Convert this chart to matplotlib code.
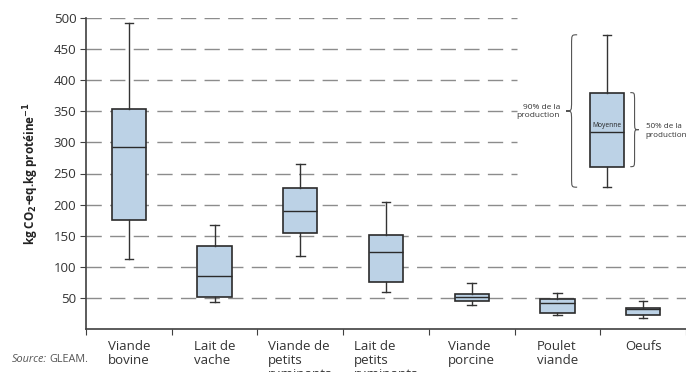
import matplotlib.pyplot as plt
from matplotlib.path import Path
from matplotlib.patches import PathPatch

plt.rcParams['font.family'] = ['Open Sans', 'DejaVu Sans']

# Produits et distribution des intensités d'émission (kg CO2-eq / kg protéine)
produits = ['Viande\nbovine', 'Lait de\nvache', 'Viande de\npetits\nruminants',
            'Lait de\npetits\nruminants', 'Viande\nporcine', 'Poulet\nviande', 'Oeufs']
p5 = [112, 44, 117, 59, 39, 22.5, 17]
p25 = [176, 51, 155, 75, 44.5, 25, 22.5]
mediane = [292, 85, 189, 124, 52, 41, 31.6]
p75 = [354, 133, 227, 150.6, 56, 49, 34]
p95 = [492, 168, 265, 204, 74, 58, 45.5]

# Boîte d'exemple pour la légende
leg_pos = 5.58
leg_stats = dict(whislo=228, q1=261, med=316, q3=380, whishi=473)

fig = plt.figure(figsize=(6.86, 3.72), dpi=100)
ax = fig.add_axes([86 / 686, 43 / 372, 600 / 686, 311 / 372])

gris = '#404040'
box_kw = dict(widths=0.40, patch_artist=True, showfliers=False,
              boxprops=dict(facecolor='#bcd2e6', edgecolor='#2b2b2b', linewidth=1.2),
              medianprops=dict(color='#2b2b2b', linewidth=1.0),
              whiskerprops=dict(color='#333333', linewidth=1.0),
              capprops=dict(color='#333333', linewidth=1.0))

stats = [dict(whislo=a, q1=b, med=c, q3=d, whishi=e)
         for a, b, c, d, e in zip(p5, p25, mediane, p75, p95)]
b1 = ax.bxp(stats, positions=range(len(produits)), **box_kw)
b2 = ax.bxp([leg_stats], positions=[leg_pos], **box_kw)
# petites barres aux extrémités des moustaches
for cap in b1['caps'] + b2['caps']:
    x0, x1 = cap.get_xdata()
    m = (x0 + x1) / 2
    cap.set_xdata([m - 0.05, m + 0.05])

# lignes de grille pointillées (courtes en haut à cause de la légende)
for v in range(50, 501, 50):
    xfin = 4.53 if v >= 250 else 6.5
    ax.plot([-0.5, xfin], [v, v], color='#8c8c8c', lw=1.0, dashes=(11, 6), zorder=0)

ax.set_xlim(-0.5, 6.5)
ax.set_ylim(0, 500)
ax.set_yticks(range(50, 501, 50))
ax.tick_params(axis='y', direction='out', length=4, color=gris, labelsize=9.5,
               labelcolor='#333333', pad=3)
ax.set_xticks([i - 0.5 for i in range(len(produits) + 1)])
ax.set_xticklabels([])
ax.tick_params(axis='x', which='major', direction='out', length=4, color=gris)
ax.set_xticks(range(len(produits)), minor=True)
ax.set_xticklabels(produits, minor=True, fontsize=9.5, color='#333333',
                   linespacing=1.1, va='top', ma='left')
ax.tick_params(axis='x', which='minor', length=0, pad=8)
for s in ['top', 'right']:
    ax.spines[s].set_visible(False)
for s in ['left', 'bottom']:
    ax.spines[s].set_color(gris)
    ax.spines[s].set_linewidth(1.2)

ax.set_ylabel(r'kg CO$_\mathbf{2}$-eq.kg protéine$^\mathbf{-1}$', fontsize=8.5,
              fontweight='bold', color='#222222', labelpad=9)


def accolade(x_pointe, x_ouvert, haut, bas, coin):
    # accolade verticale, pointe au milieu
    milieu = (haut + bas) / 2
    xm = (x_pointe + x_ouvert) / 2
    verts = [(x_ouvert, haut), (xm, haut), (xm, haut), (xm, haut - coin),
             (xm, milieu + coin),
             (xm, milieu), (xm, milieu), (x_pointe, milieu),
             (xm, milieu), (xm, milieu), (xm, milieu - coin),
             (xm, bas + coin),
             (xm, bas), (xm, bas), (x_ouvert, bas)]
    codes = [Path.MOVETO, Path.CURVE4, Path.CURVE4, Path.CURVE4, Path.LINETO,
             Path.CURVE4, Path.CURVE4, Path.CURVE4,
             Path.CURVE4, Path.CURVE4, Path.CURVE4, Path.LINETO,
             Path.CURVE4, Path.CURVE4, Path.CURVE4]
    ax.add_patch(PathPatch(Path(verts, codes), fill=False, edgecolor='#555555', lw=0.8))


accolade(5.10, 5.23, leg_stats['whishi'], leg_stats['whislo'], 16)
accolade(5.95, 5.85, leg_stats['q3'], leg_stats['q1'], 14)
ax.text(5.03, 350, '90% de la\nproduction', fontsize=6.0, color='#333333',
        ha='right', va='center', ma='right', linespacing=1.3)
ax.text(6.03, 318, '50% de la\nproduction', fontsize=5.8, color='#333333',
        ha='left', va='center', ma='left', linespacing=1.3, clip_on=False)
ax.text(leg_pos, 322, 'Moyenne', fontsize=4.8, color='#222222', ha='center', va='bottom')

fig.text(12 / 686, 1 - 360 / 372, 'Source:', fontsize=7.8, style='italic', color='#555555',
         va='center')
fig.text(49 / 686, 1 - 360 / 372, 'GLEAM.', fontsize=7.8, color='#555555', va='center')

fig.savefig('out.png', dpi=100)
